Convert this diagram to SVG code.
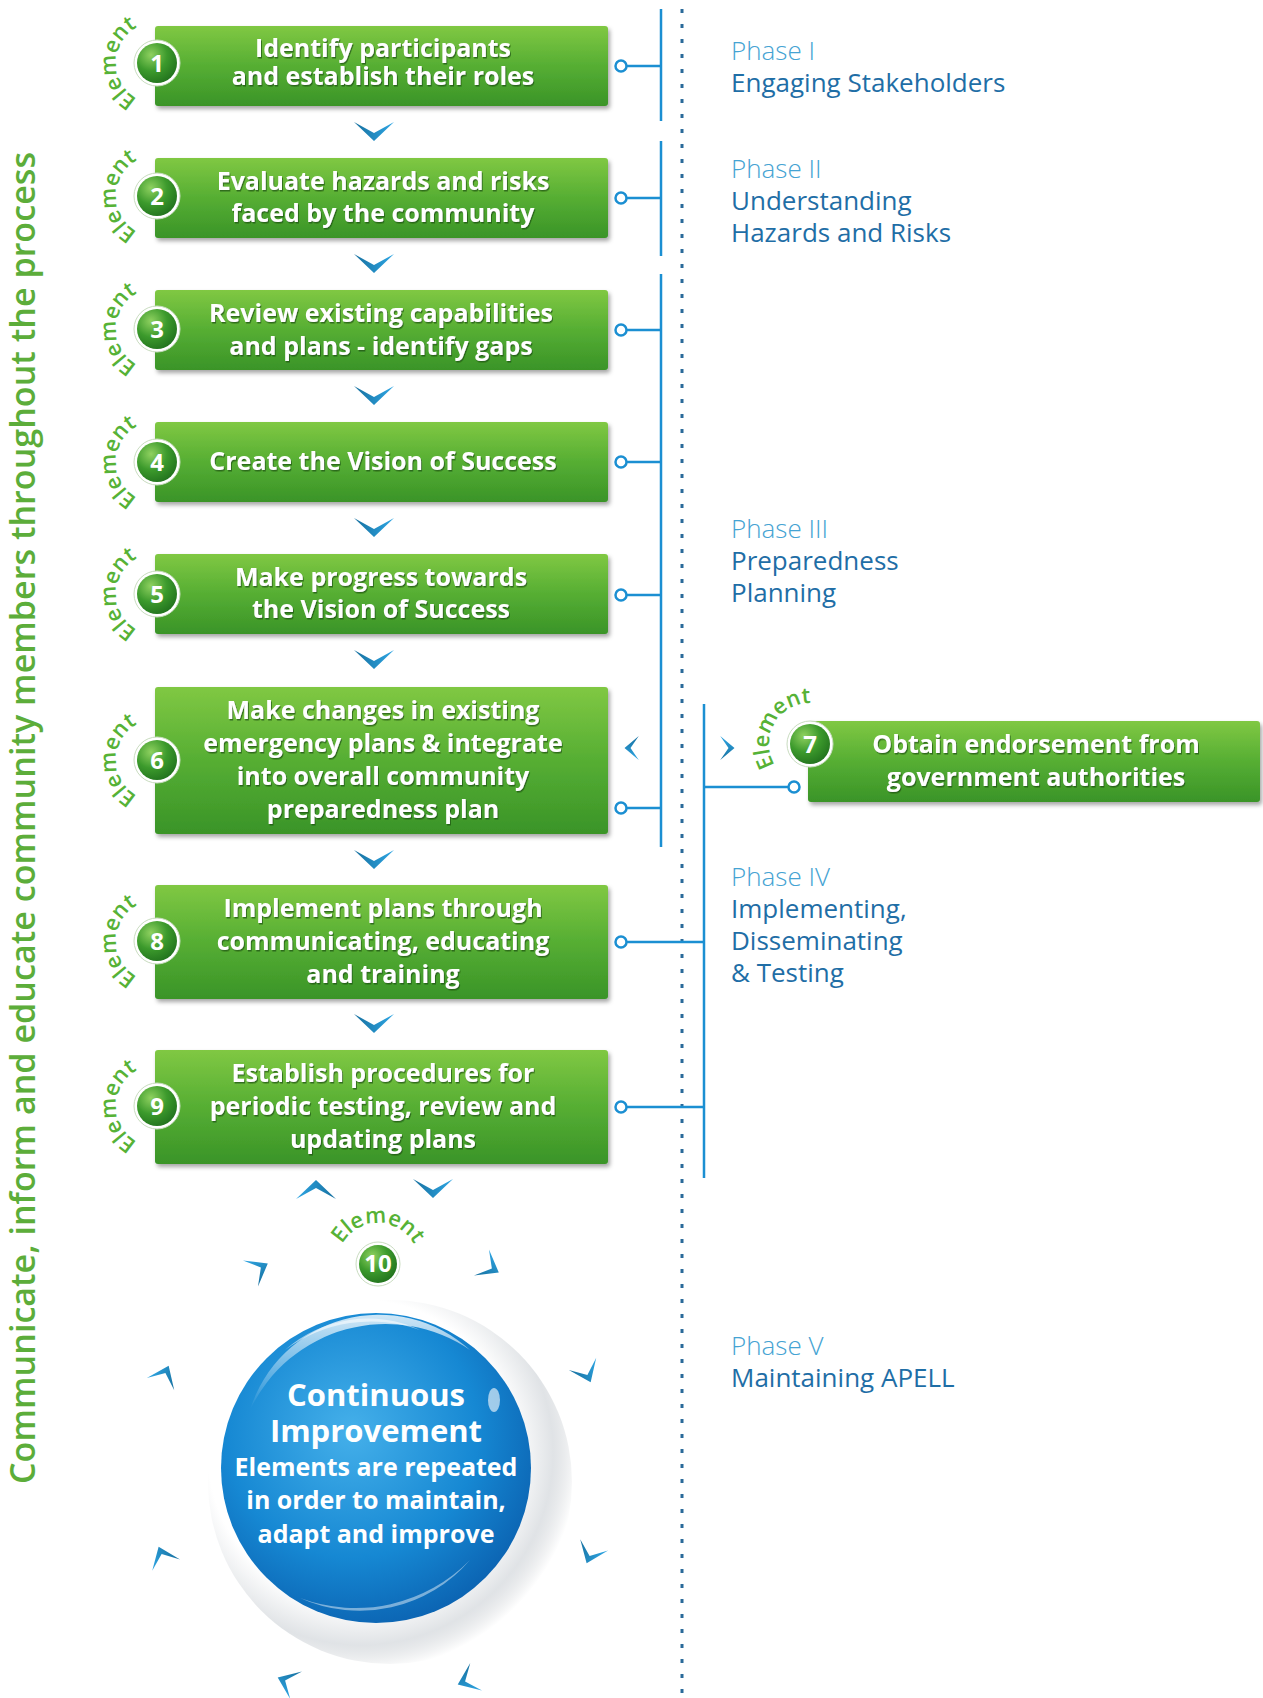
<svg xmlns="http://www.w3.org/2000/svg" width="1263" height="1698" viewBox="0 0 1263 1698">
<style>
.box{fill:url(#gBox);filter:url(#shadow)}
.bt{font-family:"Open Sans","Liberation Sans",sans-serif;font-weight:700;font-size:25px;fill:#fff;text-anchor:middle;filter:url(#tshadow)}
.el{font-family:"Open Sans","Liberation Sans",sans-serif;font-weight:600;font-size:22px;fill:#56b236;text-anchor:middle}
.num{font-family:"Open Sans","Liberation Sans",sans-serif;font-weight:700;font-size:24px;fill:#fff;text-anchor:middle}
.ring{fill:#fff;stroke:#c9dcc0;stroke-width:1}
.bdg{fill:url(#gBadge)}
.ph{font-family:"Open Sans","Liberation Sans",sans-serif;font-weight:300;font-size:26px;fill:#45a3d3}
.pb{font-family:"Open Sans","Liberation Sans",sans-serif;font-weight:400;font-size:26px;fill:#1f6ea6}
.ln{stroke:#1b8fd2;stroke-width:2.5;fill:none}
.dot{fill:#fff;stroke:#1b8fd2;stroke-width:2.5}
.chv{fill:url(#gChev)}
.ct{font-family:"Open Sans","Liberation Sans",sans-serif;font-weight:700;fill:#fff;text-anchor:middle}
</style>
<defs>
 <linearGradient id="gBox" x1="0" y1="0" x2="0" y2="1">
  <stop offset="0" stop-color="#80c843"/>
  <stop offset="0.5" stop-color="#56ae33"/>
  <stop offset="1" stop-color="#3a9428"/>
 </linearGradient>
 <radialGradient id="gBadge" cx="0.35" cy="0.3" r="0.8">
  <stop offset="0" stop-color="#8fd160"/>
  <stop offset="0.5" stop-color="#3c9a2c"/>
  <stop offset="1" stop-color="#1f6e1c"/>
 </radialGradient>
 <linearGradient id="gChev" x1="0" y1="0" x2="1" y2="0">
  <stop offset="0" stop-color="#17709f"/>
  <stop offset="1" stop-color="#2ea6e4"/>
 </linearGradient>
 <radialGradient id="gSphere" cx="0.42" cy="0.38" r="0.68">
  <stop offset="0" stop-color="#45b0ea"/>
  <stop offset="0.6" stop-color="#1688d3"/>
  <stop offset="1" stop-color="#0a5fae"/>
 </radialGradient>
 <radialGradient id="gHalo" cx="0.42" cy="0.42" r="0.6">
  <stop offset="0.7" stop-color="#ffffff"/>
  <stop offset="0.88" stop-color="#e0e3e6"/>
  <stop offset="1" stop-color="#d2d5d8" stop-opacity="0"/>
 </radialGradient>
 <linearGradient id="gGloss" x1="0" y1="0" x2="0" y2="1">
  <stop offset="0" stop-color="#fff" stop-opacity="0.8"/>
  <stop offset="1" stop-color="#fff" stop-opacity="0"/>
 </linearGradient>
 <filter id="shadow" x="-10%" y="-20%" width="120%" height="150%">
  <feDropShadow dx="2" dy="3" stdDeviation="2" flood-color="#000" flood-opacity="0.35"/>
 </filter>
 <filter id="tshadow" x="-5%" y="-20%" width="110%" height="150%">
  <feDropShadow dx="1" dy="1.5" stdDeviation="0.6" flood-color="#1d4f12" flood-opacity="0.7"/>
 </filter>
 <path id="arc" d="M 0,41 A 41 41 0 0 1 0,-41"/>
 <polygon id="chev" points="-20,-9 0,2 20,-9 0,10"/>
 <polygon id="rchev" points="-15,-11 0,1 15,-11 0,9"/>
</defs>

<rect width="1263" height="1698" fill="#fff"/>

<!-- side caption -->
<text transform="translate(35,1484) rotate(-90)" font-family="'Open Sans','Liberation Sans',sans-serif" font-weight="600" font-size="34" fill="#5cad3a" textLength="1332" lengthAdjust="spacingAndGlyphs">Communicate, inform and educate community members throughout the process</text>

<!-- connectors -->
<g id="connectors">
 <line x1="682" y1="9" x2="682" y2="1698" stroke="#2a6a9a" stroke-width="3" stroke-dasharray="4 11"/>
 <line class="ln" x1="661" y1="9" x2="661" y2="121"/>
 <line class="ln" x1="661" y1="141" x2="661" y2="256"/>
 <line class="ln" x1="661" y1="274" x2="661" y2="847"/>
 <line class="ln" x1="704" y1="704" x2="704" y2="1178"/>
 <line class="ln" x1="626" y1="66" x2="661" y2="66"/>
 <line class="ln" x1="626" y1="198" x2="661" y2="198"/>
 <line class="ln" x1="626" y1="330" x2="661" y2="330"/>
 <line class="ln" x1="626" y1="462" x2="661" y2="462"/>
 <line class="ln" x1="626" y1="595" x2="661" y2="595"/>
 <line class="ln" x1="626" y1="808" x2="661" y2="808"/>
 <line class="ln" x1="626" y1="942" x2="704" y2="942"/>
 <line class="ln" x1="626" y1="1107" x2="704" y2="1107"/>
 <line class="ln" x1="704" y1="787" x2="789" y2="787"/>
 <circle class="dot" cx="621" cy="66" r="5.5"/>
 <circle class="dot" cx="621" cy="198" r="5.5"/>
 <circle class="dot" cx="621" cy="330" r="5.5"/>
 <circle class="dot" cx="621" cy="462" r="5.5"/>
 <circle class="dot" cx="621" cy="595" r="5.5"/>
 <circle class="dot" cx="621" cy="808" r="5.5"/>
 <circle class="dot" cx="621" cy="942" r="5.5"/>
 <circle class="dot" cx="621" cy="1107" r="5.5"/>
 <circle class="dot" cx="794" cy="787" r="5.5"/>
 <use href="#chev" class="chv" x="374" y="131"/>
 <use href="#chev" class="chv" x="374" y="263"/>
 <use href="#chev" class="chv" x="374" y="395"/>
 <use href="#chev" class="chv" x="374" y="527"/>
 <use href="#chev" class="chv" x="374" y="659"/>
 <use href="#chev" class="chv" x="374" y="859"/>
 <use href="#chev" class="chv" x="374" y="1023"/>
 <use href="#chev" class="chv" transform="translate(632,748) rotate(90) scale(0.6,0.75)"/>
 <use href="#chev" class="chv" transform="translate(727,748) rotate(-90) scale(0.6,0.75)"/>
 <use href="#chev" class="chv" transform="translate(316,1190) rotate(180)"/>
 <use href="#chev" class="chv" transform="translate(433,1188)"/>
 <use href="#rchev" class="chv" transform="translate(260,1268) rotate(240)"/>
 <use href="#rchev" class="chv" transform="translate(491,1268) rotate(300)"/>
 <use href="#rchev" class="chv" transform="translate(165,1374) rotate(204)"/>
 <use href="#rchev" class="chv" transform="translate(587,1374) rotate(336)"/>
 <use href="#rchev" class="chv" transform="translate(162,1555) rotate(158)"/>
 <use href="#rchev" class="chv" transform="translate(590,1555) rotate(22)"/>
 <use href="#rchev" class="chv" transform="translate(286,1681) rotate(113)"/>
 <use href="#rchev" class="chv" transform="translate(466,1681) rotate(67)"/>
</g>

<!-- Element 1 -->
<g id="element1">
 <rect class="box" x="155" y="26" width="453" height="80" rx="3"/>
 <text class="bt" x="383" y="57">Identify participants</text>
 <text class="bt" x="383" y="85">and establish their roles</text>
 <g transform="translate(157,63)">
  <text class="el"><textPath href="#arc" startOffset="50%">Element</textPath></text>
  <circle class="ring" r="23"/><circle class="bdg" r="20"/><text class="num" y="8.5">1</text>
 </g>
</g>

<!-- Element 2 -->
<g id="element2">
 <rect class="box" x="155" y="158" width="453" height="80" rx="3"/>
 <text class="bt" x="383" y="190">Evaluate hazards and risks</text>
 <text class="bt" x="383" y="222">faced by the community</text>
 <g transform="translate(157,196)">
  <text class="el"><textPath href="#arc" startOffset="50%">Element</textPath></text>
  <circle class="ring" r="23"/><circle class="bdg" r="20"/><text class="num" y="8.5">2</text>
 </g>
</g>

<!-- Element 3 -->
<g id="element3">
 <rect class="box" x="155" y="290" width="453" height="80" rx="3"/>
 <text class="bt" x="381" y="322">Review existing capabilities</text>
 <text class="bt" x="381" y="355">and plans - identify gaps</text>
 <g transform="translate(157,329)">
  <text class="el"><textPath href="#arc" startOffset="50%">Element</textPath></text>
  <circle class="ring" r="23"/><circle class="bdg" r="20"/><text class="num" y="8.5">3</text>
 </g>
</g>

<!-- Element 4 -->
<g id="element4">
 <rect class="box" x="155" y="422" width="453" height="80" rx="3"/>
 <text class="bt" x="383" y="470">Create the Vision of Success</text>
 <g transform="translate(157,462)">
  <text class="el"><textPath href="#arc" startOffset="50%">Element</textPath></text>
  <circle class="ring" r="23"/><circle class="bdg" r="20"/><text class="num" y="8.5">4</text>
 </g>
</g>

<!-- Element 5 -->
<g id="element5">
 <rect class="box" x="155" y="554" width="453" height="80" rx="3"/>
 <text class="bt" x="381" y="586">Make progress towards</text>
 <text class="bt" x="381" y="618">the Vision of Success</text>
 <g transform="translate(157,594)">
  <text class="el"><textPath href="#arc" startOffset="50%">Element</textPath></text>
  <circle class="ring" r="23"/><circle class="bdg" r="20"/><text class="num" y="8.5">5</text>
 </g>
</g>

<!-- Element 6 -->
<g id="element6">
 <rect class="box" x="155" y="687" width="453" height="147" rx="3"/>
 <text class="bt" x="383" y="719">Make changes in existing</text>
 <text class="bt" x="383" y="752">emergency plans &amp; integrate</text>
 <text class="bt" x="383" y="785">into overall community</text>
 <text class="bt" x="383" y="818">preparedness plan</text>
 <g transform="translate(157,760)">
  <text class="el"><textPath href="#arc" startOffset="50%">Element</textPath></text>
  <circle class="ring" r="23"/><circle class="bdg" r="20"/><text class="num" y="8.5">6</text>
 </g>
</g>

<!-- Element 7 -->
<g id="element7">
 <rect class="box" x="808" y="721" width="452" height="81" rx="3"/>
 <text class="bt" x="1036" y="753">Obtain endorsement from</text>
 <text class="bt" x="1036" y="786">government authorities</text>
 <g transform="translate(810,744)">
  <text class="el" transform="rotate(30)"><textPath href="#arc" startOffset="50%">Element</textPath></text>
  <circle class="ring" r="23"/><circle class="bdg" r="20"/><text class="num" y="8.5">7</text>
 </g>
</g>

<!-- Element 8 -->
<g id="element8">
 <rect class="box" x="155" y="885" width="453" height="114" rx="3"/>
 <text class="bt" x="383" y="917">Implement plans through</text>
 <text class="bt" x="383" y="950">communicating, educating</text>
 <text class="bt" x="383" y="983">and training</text>
 <g transform="translate(157,941)">
  <text class="el"><textPath href="#arc" startOffset="50%">Element</textPath></text>
  <circle class="ring" r="23"/><circle class="bdg" r="20"/><text class="num" y="8.5">8</text>
 </g>
</g>

<!-- Element 9 -->
<g id="element9">
 <rect class="box" x="155" y="1050" width="453" height="114" rx="3"/>
 <text class="bt" x="383" y="1082">Establish procedures for</text>
 <text class="bt" x="383" y="1115">periodic testing, review and</text>
 <text class="bt" x="383" y="1148">updating plans</text>
 <g transform="translate(157,1106)">
  <text class="el"><textPath href="#arc" startOffset="50%">Element</textPath></text>
  <circle class="ring" r="23"/><circle class="bdg" r="20"/><text class="num" y="8.5">9</text>
 </g>
</g>

<!-- Element 10 / Continuous Improvement -->
<g id="element10">
 <g transform="translate(378,1264)">
  <text class="el" transform="rotate(90)"><textPath href="#arc" startOffset="50%">Element</textPath></text>
  <circle class="ring" r="22"/><circle class="bdg" r="19"/><text class="num" y="7.5" font-size="20">10</text>
 </g>
 <circle cx="390" cy="1482" r="182" fill="url(#gHalo)"/>
 <circle cx="376" cy="1468" r="155" fill="url(#gSphere)"/>
 <path d="M 250,1410 A 135 135 0 0 1 470,1350 A 150 150 0 0 0 250,1410 Z" fill="url(#gGloss)"/>
 <path d="M 285,1350 A 125 125 0 0 1 420,1330 A 145 145 0 0 0 285,1350 Z" fill="#fff" opacity="0.55"/>
 <ellipse cx="494" cy="1400" rx="6" ry="12" fill="#fff" opacity="0.6"/>
 <path d="M 300,1598 A 145 145 0 0 0 470,1560 A 160 160 0 0 1 300,1598 Z" fill="#fff" opacity="0.45"/>
 <text class="ct" x="376" y="1406" font-size="31">Continuous</text>
 <text class="ct" x="376" y="1442" font-size="31">Improvement</text>
 <text class="ct" x="376" y="1476" font-size="25">Elements are repeated</text>
 <text class="ct" x="376" y="1509" font-size="25">in order to maintain,</text>
 <text class="ct" x="376" y="1543" font-size="25">adapt and improve</text>
</g>

<!-- Phases -->
<g id="phase1">
 <text class="ph" x="731" y="60">Phase I</text>
 <text class="pb" x="731" y="92">Engaging Stakeholders</text>
</g>
<g id="phase2">
 <text class="ph" x="731" y="178">Phase II</text>
 <text class="pb" x="731" y="210">Understanding</text>
 <text class="pb" x="731" y="242">Hazards and Risks</text>
</g>
<g id="phase3">
 <text class="ph" x="731" y="538">Phase III</text>
 <text class="pb" x="731" y="570">Preparedness</text>
 <text class="pb" x="731" y="602">Planning</text>
</g>
<g id="phase4">
 <text class="ph" x="731" y="886">Phase IV</text>
 <text class="pb" x="731" y="918">Implementing,</text>
 <text class="pb" x="731" y="950">Disseminating</text>
 <text class="pb" x="731" y="982">&amp; Testing</text>
</g>
<g id="phase5">
 <text class="ph" x="731" y="1355">Phase V</text>
 <text class="pb" x="731" y="1387">Maintaining APELL</text>
</g>
</svg>
